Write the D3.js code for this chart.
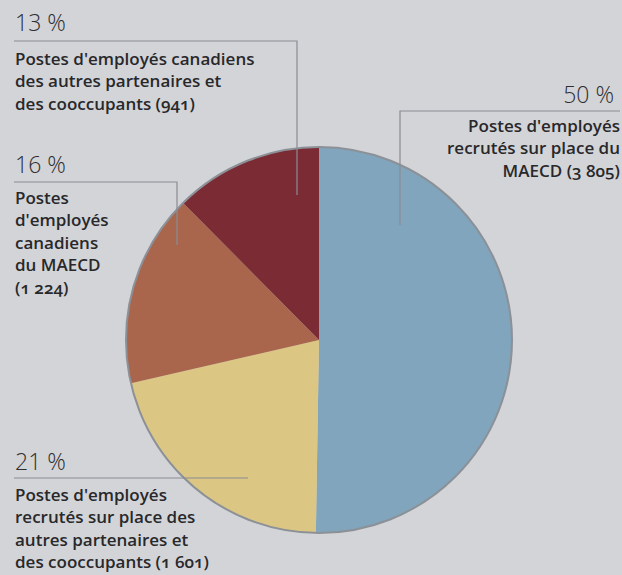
<!DOCTYPE html>
<html>
<head>
<meta charset="utf-8">
<script src="https://cdnjs.cloudflare.com/ajax/libs/d3/7.8.5/d3.min.js"></script>
<style>
  html, body { margin: 0; padding: 0; background: #d3d4d8; }
  svg { display: block; }
</style>
</head>
<body>
<div id="chart"></div>
<script>
// data
const categories = [
  "Postes d'employés recrutés sur place du MAECD",
  "Postes d'employés recrutés sur place des autres partenaires et des cooccupants",
  "Postes d'employés canadiens du MAECD",
  "Postes d'employés canadiens des autres partenaires et des cooccupants"
];
const values = [3805, 1601, 1224, 941];
const percents = ["50 %", "21 %", "16 %", "13 %"];
const colors = ["#80a5bd", "#dbc783", "#a9664d", "#7b2b33"];

// how each label wraps (lines), same order as categories
const labelLines = [
  ["Postes d'employés", "recrutés sur place du", "MAECD (3 805)"],
  ["Postes d'employés", "recrutés sur place des", "autres partenaires et", "des cooccupants (1 601)"],
  ["Postes", "d'employés", "canadiens", "du MAECD", "(1 224)"],
  ["Postes d'employés canadiens", "des autres partenaires et", "des cooccupants (941)"]
];

const width = 622, height = 575;
const cx = 319, cy = 340, radius = 193;

const svg = d3.select("#chart")
  .append("svg")
  .attr("width", width)
  .attr("height", height)
  .attr("viewBox", [0, 0, width, height]);

// pie
const pie = d3.pie().sort(null).value(d => d);
const arc = d3.arc().innerRadius(0).outerRadius(radius);
const arcs = pie(values);

const g = svg.append("g").attr("transform", `translate(${cx},${cy})`);

g.selectAll("path")
  .data(arcs)
  .join("path")
    .attr("d", arc)
    .attr("fill", (d, i) => colors[i]);

// thin grey rim
g.append("circle")
  .attr("r", radius)
  .attr("fill", "none")
  .attr("stroke", "#8c9097")
  .attr("stroke-width", 2);

// label layout: pct baseline, first text line baseline, anchor, x, leader line
const layout = [
  {x: 620, px: 614, anchor: "end", pctY: 103, lineY: 132,
   leader: [[620, 111], [400, 111], [400, 225]]},
  {x: 15, px: 15, anchor: "start", pctY: 470, lineY: 501,
   leader: [[14, 478], [248, 478]]},
  {x: 15, px: 15, anchor: "start", pctY: 173, lineY: 204,
   leader: [[14, 182], [177, 182], [177, 245]]},
  {x: 15, px: 15, anchor: "start", pctY: 31, lineY: 65,
   leader: [[14, 41], [297, 41], [297, 195]]}
];

const line = d3.line();

svg.append("g")
  .selectAll("path")
  .data(layout)
  .join("path")
    .attr("d", d => line(d.leader))
    .attr("fill", "none")
    .attr("stroke", "#8a8c92")
    .attr("stroke-width", 1.2);

const labels = svg.append("g")
  .selectAll("g")
  .data(categories)
  .join("g")
    .attr("text-anchor", (d, i) => layout[i].anchor);

labels.append("text")
  .attr("x", (d, i) => layout[i].px)
  .attr("y", (d, i) => layout[i].pctY)
  .attr("font-family", "'Open Sans', sans-serif")
  .attr("font-weight", 300)
  .attr("font-size", 23)
  .attr("fill", "#2e2e30")
  .text((d, i) => percents[i]);

labels.append("text")
  .attr("font-family", "'Open Sans', sans-serif")
  .attr("font-weight", 600)
  .attr("font-size", 17)
  .attr("fill", "#28282a")
  .style("font-variant-numeric", "oldstyle-nums")
  .selectAll("tspan")
  .data((d, i) => labelLines[i].map(t => ({t, i})))
  .join("tspan")
    .attr("x", d => layout[d.i].x)
    .attr("y", (d, j) => layout[d.i].lineY + j * 22.4)
    .text(d => d.t);
</script>
</body>
</html>
